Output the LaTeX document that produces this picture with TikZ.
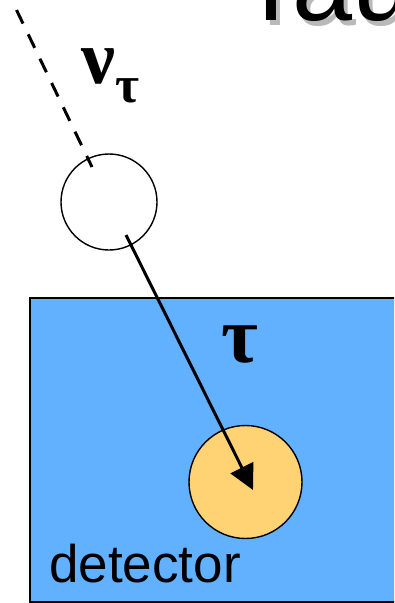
\documentclass[tikz,border=0pt]{standalone}
\usepackage{amsmath}
\usepackage{fontspec}
\setsansfont{Liberation Sans}
\newfontfamily\greekfont{Liberation Serif}
\usetikzlibrary{arrows.meta, positioning, calc}
\definecolor{detblue}{HTML}{62B1FE}
\definecolor{hityellow}{HTML}{FFD374}
\definecolor{shadowgray}{HTML}{8A8A8A}

\begin{document}
\begin{tikzpicture}[x=1pt, y=-1pt,
    vertexstyle/.style={circle, draw=black, line width=1.4pt, inner sep=0pt},
    trackstyle/.style={line width=3pt},
    greek/.style={inner sep=0pt, anchor=base west, font=\greekfont\bfseries}]
  \useasboundingbox (0,0) rectangle (394,603);
  \clip (0,0) rectangle (394,603);

  % Title, cut off at the top
  \node[inner sep=0pt, anchor=base west, font=\sffamily\fontsize{108}{108}\selectfont,
        text=shadowgray, opacity=0.6] (titleshadow) at (242,25) {Tau};
  \node[inner sep=0pt, anchor=base west, font=\sffamily\fontsize{108}{108}\selectfont]
        (title) at (238,20) {Tau};

  % Detector block
  \fill[detblue, draw=black, line width=1.4pt] (30,298) rectangle (420,602);
  \node[inner sep=0pt, anchor=base west, font=\sffamily\fontsize{53}{53}\selectfont]
        (detlabel) at (49,582) {detector};

  % Interaction vertex and hit
  \node[vertexstyle, minimum size=96pt, fill=white] (vertex) at (109,202) {};
  \node[vertexstyle, minimum size=113pt, fill=hityellow] (hit) at (245.5,482) {};

  % Tracks
  \coordinate (nuin) at (16.5,10);
  \coordinate (nuend) at (92,167);
  \coordinate (taustart) at (126,235);
  \coordinate (tautip) at (253,490);
  \draw[trackstyle, dash pattern=on 15pt off 12pt] (nuin) -- (nuend);
  \draw[trackstyle, -{Triangle[length=25pt, width=25pt]}] (taustart) -- (tautip);

  % Labels
  \node[greek] (nulabel) at (81,83)
        {\fontsize{76}{76}\selectfont ν\raisebox{-19pt}{\fontsize{52}{52}\selectfont τ}};
  \node[greek] (taulabel) at (221,362)
        {\fontsize{80}{80}\selectfont τ};
\end{tikzpicture}
\end{document}
